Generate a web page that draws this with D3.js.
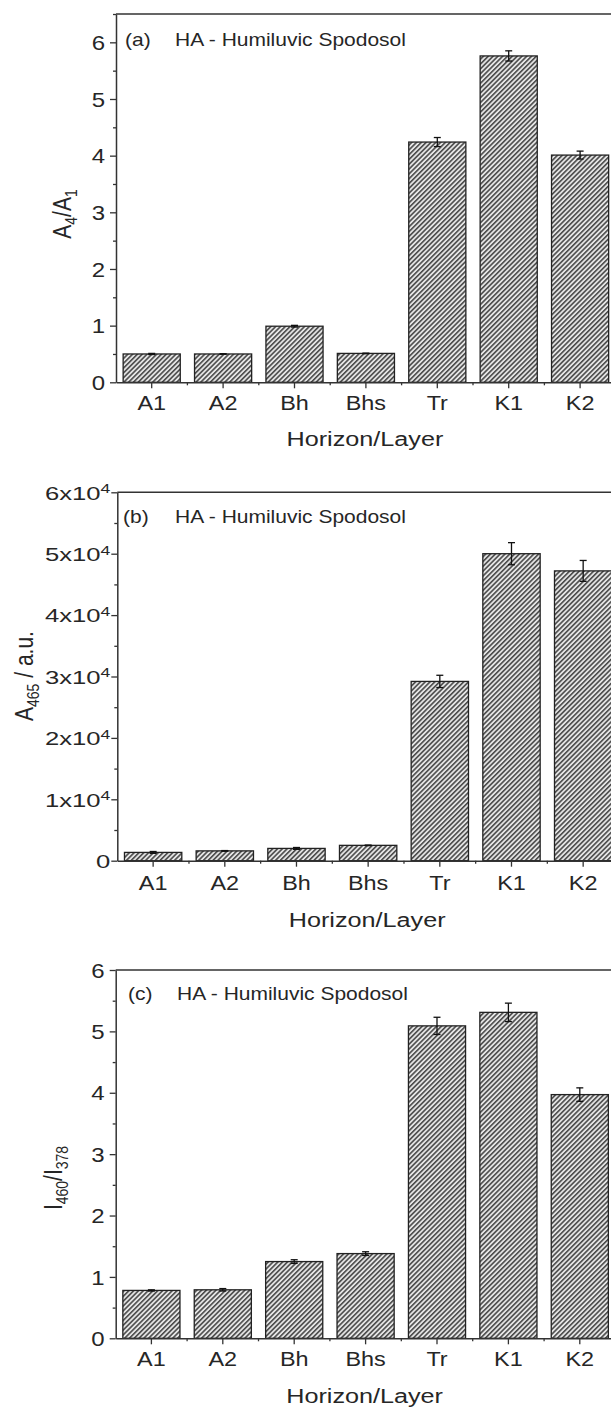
<!DOCTYPE html>
<html><head><meta charset="utf-8">
<script src="https://cdn.jsdelivr.net/npm/d3@7"></script>
<style>
body{margin:0;background:#fff}
text{font-family:"Liberation Sans",Arial,Helvetica,sans-serif;fill:#262626}
</style>
</head><body>
<svg id="chart" width="611" height="1408"></svg>
<script>
// ---------- data ----------
const categories = ["A1","A2","Bh","Bhs","Tr","K1","K2"];
const valuesA = [0.50,0.50,0.99,0.51,4.24,5.76,4.01];
const errorsA = [0.01,0.005,0.015,0.005,0.08,0.09,0.07];
const valuesB = [1350,1600,2000,2500,29200,50000,47200];
const errorsB = [150,50,150,50,1000,1800,1700];
const valuesC = [0.78,0.79,1.25,1.38,5.09,5.31,3.97];
const errorsC = [0.01,0.02,0.03,0.03,0.14,0.15,0.11];
const ticksA = [0,1,2,3,4,5,6];
const ticksB = [0,10000,20000,30000,40000,50000,60000];
const ticksC = [0,1,2,3,4,5,6];
const panelLetters = ["(a)","(b)","(c)"];
const annotation = "HA - Humiluvic Spodosol";
const xTitle = "Horizon/Layer";

// ---------- drawing ----------
const svg = d3.select("#chart");
const SX = 1.2; // horizontal stretch of the glyphs in the reference

const defs = svg.append("defs");
const P = 3.4;
const pat = defs.append("pattern").attr("id","hatch")
  .attr("patternUnits","userSpaceOnUse").attr("width",P).attr("height",P)
  .attr("patternTransform","rotate(45)");
pat.append("rect").attr("width",P).attr("height",P).attr("fill","#e4e4e4");
pat.append("line").attr("x1",0.8).attr("y1",0).attr("x2",0.8).attr("y2",P)
  .attr("stroke","#353535").attr("stroke-width",1.4);

function drawPanel(cfg){
  const g = svg.append("g");
  const x = d3.scaleBand().domain(categories).range([cfg.left,cfg.right]).paddingInner(0.2).paddingOuter(0.1);
  const y = d3.scaleLinear().domain([0,cfg.ymax]).range([cfg.bottom,cfg.top]);

  // bars
  g.selectAll("rect.bar").data(categories).join("rect").attr("class","bar")
    .attr("x",d=>x(d)).attr("width",x.bandwidth())
    .attr("y",(d,i)=>y(cfg.values[i])).attr("height",(d,i)=>y(0)-y(cfg.values[i]))
    .attr("fill","url(#hatch)").attr("stroke","#222").attr("stroke-width",1.3);

  // error bars
  const eg = g.append("g").attr("stroke","#111").attr("stroke-width",1.3);
  categories.forEach((c,i)=>{
    const cx = x(c)+x.bandwidth()/2;
    const v = cfg.values[i], e = cfg.errors[i];
    eg.append("line").attr("x1",cx).attr("x2",cx).attr("y1",y(v-e)).attr("y2",y(v+e));
    [v-e,v+e].forEach(t=>eg.append("line").attr("x1",cx-3.5).attr("x2",cx+3.5).attr("y1",y(t)).attr("y2",y(t)));
  });

  // frame (top + right)
  g.append("path").attr("d",`M${cfg.left},${cfg.top}H${cfg.right}V${cfg.bottom}`)
    .attr("fill","none").attr("stroke","#333").attr("stroke-width",1.5);

  // y axis major
  const ya = g.append("g").attr("transform",`translate(${cfg.left},0)`)
    .call(d3.axisLeft(y).tickValues(cfg.ticks).tickSize(6).tickSizeOuter(0).tickPadding(5));
  ya.select(".domain").attr("stroke","#333").attr("stroke-width",1.5);
  ya.selectAll(".tick line").attr("stroke","#333").attr("stroke-width",1.3);
  ya.selectAll(".tick text").attr("font-size",cfg.yTickSize).attr("font-family",null)
    .attr("transform",`scale(${cfg.yTickSX},1)`).attr("x",-cfg.yTickGap/cfg.yTickSX).attr("dy","0.36em")
    .each(function(d){ cfg.fmt(d3.select(this), d); });
  // y axis minor
  const minor = d3.range(cfg.minorStep, cfg.ymax+1e-9, cfg.minorStep).filter(v=>!cfg.ticks.includes(v));
  const ym = g.append("g").attr("transform",`translate(${cfg.left},0)`)
    .call(d3.axisLeft(y).tickValues(minor).tickSize(3).tickSizeOuter(0).tickFormat(""));
  ym.select(".domain").remove();
  ym.selectAll(".tick line").attr("stroke","#333").attr("stroke-width",1.3);

  // x axis
  const xa = g.append("g").attr("transform",`translate(0,${cfg.bottom})`)
    .call(d3.axisBottom(x).tickSize(6).tickSizeOuter(0).tickPadding(4));
  xa.select(".domain").attr("stroke","#333").attr("stroke-width",1.5);
  xa.selectAll(".tick line").attr("stroke","#333").attr("stroke-width",1.3);
  xa.selectAll(".tick text").attr("font-size",19.5).attr("font-family",null)
    .attr("dy",null).attr("y",cfg.xTickBase-cfg.bottom)
    .attr("transform",`scale(${SX},1)`).attr("x",0);
  // minor x ticks at category boundaries
  const bounds = d3.range(1,categories.length).map(i=>x.range()[0]+i*x.step());
  g.append("g").selectAll("line").data(bounds).join("line")
    .attr("x1",d=>d).attr("x2",d=>d).attr("y1",cfg.bottom).attr("y2",cfg.bottom+3)
    .attr("stroke","#333").attr("stroke-width",1.3);

  // x title
  g.append("text").attr("text-anchor","middle").attr("font-size",21)
    .attr("transform",`translate(${(cfg.left+cfg.right)/2-1},${cfg.xTitleBase}) scale(${SX},1)`)
    .text(xTitle);

  // y title
  const yt = g.append("text").attr("text-anchor","middle").attr("font-size",21)
    .attr("transform",`translate(${cfg.yTitleX},${cfg.yTitleY}) rotate(-90) scale(1,${SX})`);
  cfg.ytitle(yt);

  // annotation
  g.append("text").attr("font-size",17.5)
    .attr("transform",`translate(${cfg.annX},${cfg.annBase}) scale(${SX},1)`).text(cfg.letter);
  g.append("text").attr("font-size",17.5)
    .attr("transform",`translate(${cfg.annX2},${cfg.annBase}) scale(${SX},1)`).text(annotation);
}

const plainFmt = (t,d)=>t.text(d3.format("d")(d));
const sciFmt = (t,d)=>{
  t.text(null);
  if(d===0){ t.text("0"); return; }
  t.append("tspan").text(`${d/1e4}x10`);
  t.append("tspan").attr("dy","-0.5em").attr("font-size","13px").text("4");
};
function sub(t, parts){
  parts.forEach(p=>{
    if(p.sub){
      t.append("tspan").attr("font-size","14px").attr("dy","5").text(p.s);
    } else {
      t.append("tspan").attr("dy", p.back ? "-5" : null).text(p.s);
    }
  });
}

drawPanel({left:116,right:615.8,top:14,bottom:382.3,ymax:6.5,values:valuesA,errors:errorsA,
  ticks:ticksA,minorStep:0.5,fmt:plainFmt,xTickBase:410,xTitleBase:446,
  yTickSize:20,yTickSX:1.2,yTickGap:11,
  yTitleX:71,yTitleY:214,ytitle:t=>sub(t,[{s:"A"},{s:"4",sub:1},{s:"/A",back:1},{s:"1",sub:1}]),
  letter:panelLetters[0],annX:125,annX2:175,annBase:46});

drawPanel({left:117.3,right:619,top:492.3,bottom:860.7,ymax:60000,values:valuesB,errors:errorsB,
  ticks:ticksB,minorStep:5000,fmt:sciFmt,xTickBase:890,xTitleBase:927,
  yTickSize:19,yTickSX:1.35,yTickGap:7,
  yTitleX:33,yTitleY:676,ytitle:t=>sub(t,[{s:"A"},{s:"465",sub:1},{s:" / a.u.",back:1}]),
  letter:panelLetters[1],annX:123,annX2:175,annBase:523});

drawPanel({left:115.7,right:615.5,top:970,bottom:1338.3,ymax:6,values:valuesC,errors:errorsC,
  ticks:ticksC,minorStep:0.5,fmt:plainFmt,xTickBase:1366,xTitleBase:1403,
  yTickSize:20,yTickSX:1.2,yTickGap:11,
  yTitleX:62,yTitleY:1178,ytitle:t=>sub(t,[{s:"I"},{s:"460",sub:1},{s:"/I",back:1},{s:"378",sub:1}]),
  letter:panelLetters[2],annX:128,annX2:177,annBase:1000});
</script>
</body></html>
